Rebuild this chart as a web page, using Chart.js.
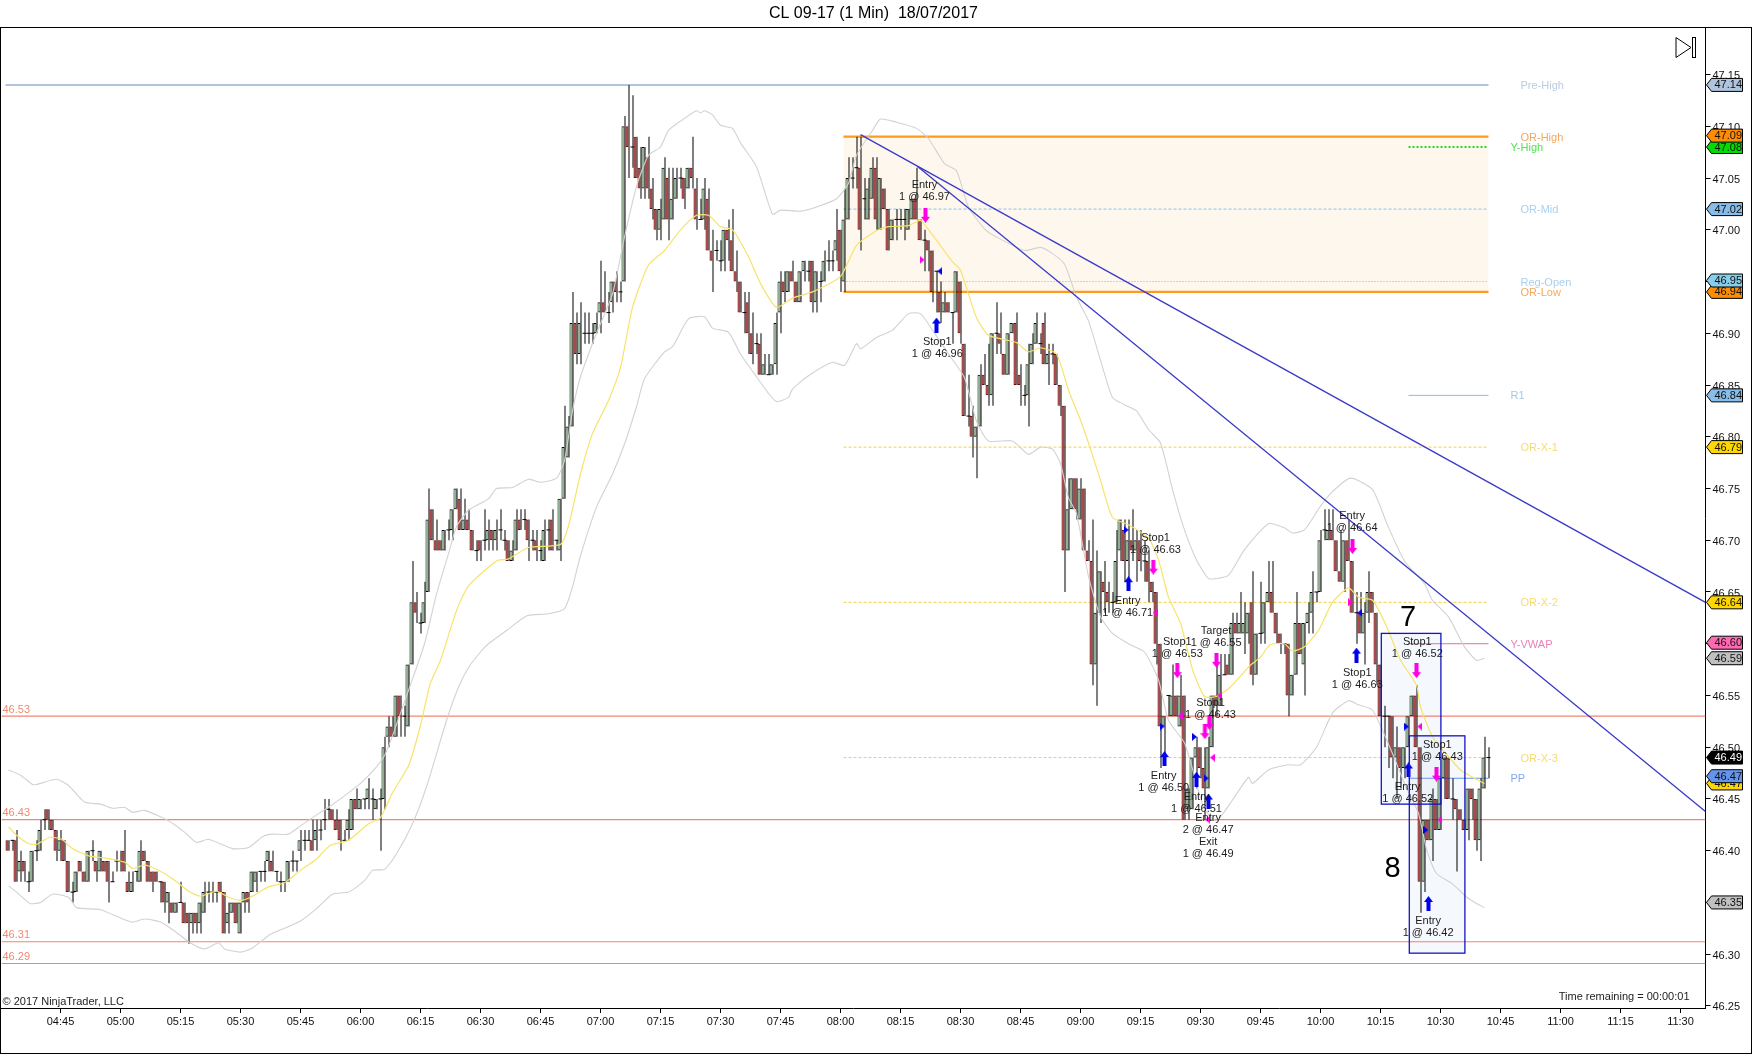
<!DOCTYPE html>
<html>
<head>
<meta charset="utf-8">
<title>CL 09-17 (1 Min)</title>
<script src="https://cdn.jsdelivr.net/npm/chart.js@4"></script>
<style>
  html, body { margin: 0; padding: 0; background: #fff; }
  canvas { display: block; }
</style>
</head>
<body>
<canvas id="priceChart" width="1752" height="1054"></canvas>
<script>
// one bar per minute, the first one is 04:32 (minute 272 of the day)
const firstBarMinute = 272;

const barOpen = [
  46.41,46.41,46.41,46.38,46.39,46.37,46.37,46.40,46.40,46.43,
  46.44,46.43,46.42,46.40,46.41,46.39,46.36,46.36,46.39,46.38,
  46.37,46.40,46.39,46.38,46.39,46.39,46.37,46.39,46.39,46.40,
  46.37,46.36,46.38,46.37,46.40,46.39,46.38,46.38,46.37,46.37,
  46.35,46.35,46.34,46.35,46.35,46.34,46.33,46.34,46.33,46.34,
  46.36,46.36,46.36,46.37,46.36,46.33,46.34,46.35,46.32,46.35,
  46.36,46.36,46.37,46.38,46.38,46.39,46.39,46.38,46.37,46.37,
  46.37,46.39,46.39,46.40,46.41,46.41,46.41,46.41,46.42,46.43,
  46.44,46.44,46.43,46.43,46.41,46.42,46.42,46.45,46.44,46.45,
  46.45,46.45,46.44,46.45,46.45,46.51,46.52,46.51,46.55,46.53,
  46.52,46.58,46.64,46.62,46.62,46.65,46.73,46.70,46.70,46.69,
  46.71,46.71,46.73,46.74,46.71,46.72,46.71,46.69,46.70,46.70,
  46.70,46.71,46.70,46.71,46.70,46.70,46.68,46.69,46.72,46.72,
  46.72,46.70,46.70,46.69,46.68,46.71,46.72,46.70,46.69,46.74,
  46.78,46.81,46.91,46.88,46.90,46.90,46.90,46.90,46.92,46.93,
  46.92,46.93,46.95,46.94,46.95,47.10,47.08,47.09,47.06,47.04,
  47.07,47.04,47.02,47.00,47.01,47.05,47.01,47.03,47.05,47.05,
  47.04,47.06,47.04,47.01,47.01,47.03,46.98,46.98,46.97,46.97,
  47.00,46.99,46.96,46.95,46.92,46.93,46.90,46.89,46.89,46.86,
  46.86,46.86,46.87,46.92,46.95,46.94,46.96,46.95,46.93,46.96,
  46.96,46.97,46.93,46.95,46.95,46.97,46.97,46.98,47.00,46.95,
  47.01,47.05,47.06,47.06,47.03,47.01,47.03,47.06,47.00,47.04,
  47.02,46.99,47.01,47.01,47.01,47.00,47.01,47.03,47.01,46.99,
  46.99,46.98,46.96,46.94,46.92,46.93,46.92,46.92,46.95,46.89,
  46.82,46.82,46.80,46.81,46.86,46.85,46.84,46.90,46.90,46.88,
  46.86,46.90,46.91,46.86,46.84,46.84,46.87,46.89,46.89,46.91,
  46.87,46.88,46.88,46.85,46.83,46.69,46.73,46.76,46.72,46.75,
  46.69,46.68,46.58,46.63,46.66,46.65,46.64,46.64,46.69,46.71,
  46.68,46.70,46.69,46.70,46.68,46.68,46.66,46.65,46.60,46.52,
  46.55,46.53,46.55,46.52,46.55,46.44,46.44,46.49,46.50,46.48,
  46.46,46.50,46.55,46.54,46.57,46.58,46.57,46.62,46.61,46.61,
  46.61,46.64,46.57,46.61,46.61,46.64,46.65,46.63,46.61,46.60,
  46.60,46.55,46.57,46.62,46.58,46.62,46.63,46.65,46.65,46.71,
  46.70,46.71,46.70,46.67,46.66,46.70,46.68,46.63,46.63,46.61,
  46.63,46.65,46.63,46.58,46.53,46.53,46.53,46.49,46.50,46.48,
  46.50,46.53,46.55,46.50,46.37,46.43,46.41,46.45,46.42,46.47,
  46.49,46.45,46.45,46.44,46.43,46.42,46.46,46.45,46.41,46.46,
  46.49
];
const barHigh = [
  46.41,46.41,46.42,46.40,46.39,46.38,46.40,46.41,46.43,46.44,
  46.44,46.43,46.42,46.42,46.41,46.39,46.37,46.38,46.39,46.38,
  46.40,46.41,46.39,46.40,46.39,46.39,46.38,46.40,46.40,46.42,
  46.38,46.38,46.38,46.41,46.40,46.39,46.38,46.38,46.37,46.37,
  46.36,46.35,46.35,46.37,46.35,46.34,46.34,46.34,46.35,46.37,
  46.37,46.37,46.36,46.37,46.36,46.35,46.35,46.35,46.35,46.36,
  46.36,46.38,46.38,46.38,46.39,46.40,46.40,46.38,46.38,46.37,
  46.39,46.40,46.39,46.42,46.42,46.42,46.43,46.43,46.43,46.45,
  46.45,46.44,46.44,46.43,46.42,46.44,46.45,46.46,46.45,46.45,
  46.47,46.46,46.45,46.46,46.51,46.53,46.53,46.55,46.55,46.54,
  46.58,46.68,46.65,46.63,46.66,46.75,46.73,46.72,46.70,46.71,
  46.72,46.73,46.75,46.75,46.74,46.73,46.71,46.70,46.70,46.73,
  46.72,46.71,46.72,46.73,46.71,46.70,46.70,46.73,46.73,46.73,
  46.72,46.71,46.71,46.70,46.72,46.72,46.73,46.70,46.74,46.83,
  46.82,46.94,46.92,46.93,46.92,46.92,46.91,46.92,46.97,46.96,
  46.94,46.95,46.96,46.95,47.11,47.14,47.13,47.09,47.08,47.08,
  47.09,47.05,47.02,47.03,47.07,47.06,47.06,47.06,47.06,47.05,
  47.06,47.09,47.05,47.03,47.05,47.04,47.00,46.99,46.99,47.00,
  47.01,47.02,46.98,46.95,46.94,46.94,46.92,46.90,46.90,46.88,
  46.88,46.87,46.92,46.96,46.96,46.96,46.97,46.95,46.96,46.97,
  46.97,46.97,46.96,46.96,46.98,46.99,46.98,47.02,47.00,47.04,
  47.07,47.07,47.09,47.09,47.05,47.05,47.07,47.07,47.05,47.04,
  47.02,47.01,47.02,47.02,47.02,47.02,47.03,47.06,47.01,47.00,
  46.99,46.98,46.96,46.95,46.94,46.93,46.92,46.96,46.95,46.89,
  46.86,46.83,46.81,46.87,46.88,46.89,46.90,46.93,46.92,46.88,
  46.90,46.91,46.92,46.87,46.85,46.89,46.90,46.92,46.90,46.92,
  46.89,46.89,46.88,46.85,46.83,46.76,46.76,46.76,46.76,46.75,
  46.70,46.72,46.69,46.67,46.68,46.66,46.65,46.71,46.72,46.72,
  46.72,46.73,46.71,46.71,46.70,46.69,46.66,46.65,46.60,46.53,
  46.55,46.58,46.55,46.57,46.55,46.46,46.49,46.51,46.50,46.50,
  46.51,46.55,46.59,46.59,46.59,46.59,46.63,46.63,46.65,46.64,
  46.63,46.67,46.61,46.66,46.64,46.68,46.68,46.63,46.61,46.60,
  46.60,46.57,46.65,46.62,46.62,46.64,46.67,46.65,46.71,46.73,
  46.73,46.73,46.70,46.71,46.70,46.72,46.68,46.65,46.65,46.64,
  46.67,46.65,46.63,46.58,46.54,46.53,46.53,46.52,46.50,46.50,
  46.53,46.55,46.56,46.50,46.43,46.43,46.46,46.45,46.47,46.49,
  46.49,46.47,46.45,46.44,46.43,46.46,46.46,46.45,46.47,46.51,
  46.50
];
const barLow = [
  46.40,46.40,46.37,46.37,46.37,46.36,46.37,46.39,46.40,46.42,
  46.42,46.42,46.39,46.39,46.39,46.36,46.35,46.36,46.38,46.37,
  46.37,46.39,46.37,46.38,46.38,46.35,46.37,46.38,46.38,46.38,
  46.36,46.36,46.37,46.37,46.39,46.37,46.36,46.37,46.35,46.34,
  46.33,46.34,46.34,46.35,46.33,46.31,46.32,46.32,46.32,46.34,
  46.35,46.35,46.35,46.36,46.32,46.32,46.34,46.33,46.32,46.34,
  46.34,46.36,46.36,46.37,46.37,46.38,46.38,46.37,46.36,46.36,
  46.37,46.38,46.38,46.39,46.40,46.41,46.40,46.40,46.41,46.42,
  46.43,46.43,46.42,46.40,46.41,46.41,46.42,46.44,46.44,46.44,
  46.44,46.43,46.44,46.40,46.44,46.50,46.51,46.51,46.51,46.51,
  46.52,46.58,46.62,46.61,46.62,46.65,46.70,46.69,46.69,46.69,
  46.70,46.70,46.73,46.71,46.71,46.71,46.69,46.68,46.68,46.69,
  46.69,46.69,46.69,46.70,46.69,46.68,46.68,46.69,46.71,46.71,
  46.68,46.69,46.68,46.68,46.68,46.69,46.69,46.69,46.68,46.74,
  46.78,46.81,46.87,46.87,46.89,46.89,46.89,46.90,46.90,46.92,
  46.91,46.92,46.93,46.93,46.95,47.05,47.06,47.05,47.03,47.03,
  47.03,47.01,46.99,46.99,47.01,46.99,47.01,47.03,47.04,47.02,
  47.04,47.04,47.00,47.01,47.00,46.98,46.94,46.97,46.96,46.96,
  46.97,46.96,46.94,46.92,46.90,46.88,46.87,46.88,46.86,46.86,
  46.86,46.86,46.86,46.90,46.93,46.94,46.95,46.93,46.93,46.95,
  46.95,46.92,46.92,46.93,46.95,46.96,46.96,46.97,46.94,46.94,
  47.01,47.04,47.04,46.98,47.01,47.01,47.03,47.00,47.00,47.02,
  46.98,46.99,46.99,47.00,46.99,47.00,47.01,47.01,46.99,46.96,
  46.96,46.93,46.92,46.91,46.92,46.92,46.89,46.92,46.89,46.82,
  46.81,46.78,46.76,46.81,46.85,46.83,46.83,46.88,46.88,46.86,
  46.86,46.90,46.85,46.83,46.83,46.81,46.87,46.89,46.88,46.87,
  46.85,46.87,46.85,46.82,46.65,46.69,46.73,46.72,46.72,46.69,
  46.68,46.56,46.54,46.62,46.63,46.63,46.63,46.64,46.68,46.66,
  46.66,46.68,46.66,46.67,46.66,46.64,46.64,46.58,46.48,46.49,
  46.53,46.53,46.53,46.52,46.43,46.43,46.44,46.46,46.47,46.43,
  46.46,46.50,46.53,46.54,46.57,46.57,46.57,46.61,46.61,46.59,
  46.60,46.56,46.57,46.60,46.60,46.64,46.63,46.60,46.59,46.59,
  46.53,46.55,46.57,46.59,46.55,46.61,46.61,46.64,46.65,46.70,
  46.70,46.70,46.67,46.66,46.65,46.68,46.63,46.60,46.61,46.58,
  46.62,46.63,46.56,46.53,46.50,46.48,46.47,46.45,46.46,46.47,
  46.50,46.53,46.50,46.34,46.36,46.41,46.39,46.42,46.42,46.45,
  46.45,46.43,46.38,46.43,46.42,46.41,46.43,46.40,46.39,46.46,
  46.47
];
const barClose = [
  46.40,46.41,46.37,46.39,46.38,46.37,46.40,46.40,46.42,46.43,
  46.43,46.42,46.40,46.41,46.39,46.36,46.36,46.38,46.38,46.37,
  46.40,46.40,46.38,46.40,46.38,46.37,46.37,46.39,46.39,46.38,
  46.36,46.37,46.38,46.40,46.39,46.37,46.37,46.37,46.37,46.35,
  46.36,46.34,46.35,46.35,46.33,46.33,46.34,46.33,46.35,46.36,
  46.36,46.36,46.36,46.36,46.32,46.34,46.35,46.33,46.35,46.36,
  46.35,46.38,46.38,46.38,46.38,46.40,46.38,46.38,46.37,46.37,
  46.39,46.39,46.39,46.41,46.41,46.41,46.40,46.42,46.42,46.43,
  46.44,46.43,46.42,46.41,46.41,46.43,46.45,46.44,46.45,46.45,
  46.46,46.45,46.45,46.45,46.50,46.52,46.51,46.55,46.53,46.53,
  46.58,46.64,46.63,46.62,46.64,46.72,46.70,46.69,46.69,46.71,
  46.71,46.73,46.75,46.71,46.72,46.71,46.69,46.69,46.69,46.70,
  46.71,46.70,46.71,46.71,46.70,46.68,46.69,46.72,46.71,46.72,
  46.70,46.70,46.69,46.69,46.71,46.71,46.69,46.70,46.74,46.79,
  46.81,46.91,46.88,46.91,46.90,46.90,46.90,46.91,46.93,46.92,
  46.92,46.95,46.94,46.94,47.10,47.08,47.08,47.05,47.04,47.08,
  47.04,47.02,47.00,47.02,47.06,47.01,47.03,47.05,47.05,47.03,
  47.06,47.05,47.01,47.01,47.04,46.98,46.97,46.98,46.97,47.00,
  46.99,46.96,46.95,46.92,46.92,46.90,46.88,46.89,46.86,46.87,
  46.86,46.87,46.91,46.95,46.94,46.96,46.95,46.93,46.96,46.97,
  46.96,46.93,46.96,46.95,46.97,46.97,46.97,46.99,46.96,47.01,
  47.05,47.05,47.06,47.00,47.03,47.04,47.06,47.01,47.05,47.02,
  46.98,47.01,47.01,47.01,47.01,47.02,47.03,47.01,46.99,46.99,
  46.98,46.94,46.96,46.92,46.93,46.92,46.92,46.96,46.90,46.82,
  46.82,46.80,46.81,46.86,46.85,46.84,46.90,46.90,46.89,46.86,
  46.90,46.91,46.85,46.85,46.84,46.87,46.89,46.91,46.89,46.87,
  46.88,46.88,46.85,46.83,46.69,46.73,46.76,46.73,46.75,46.69,
  46.68,46.58,46.63,46.67,46.65,46.64,46.64,46.68,46.72,46.68,
  46.70,46.69,46.70,46.68,46.68,46.66,46.65,46.60,46.52,46.53,
  46.55,46.55,46.53,46.55,46.43,46.46,46.49,46.50,46.48,46.46,
  46.50,46.55,46.54,46.57,46.57,46.57,46.62,46.61,46.62,46.62,
  46.63,46.57,46.61,46.61,46.64,46.65,46.63,46.61,46.60,46.60,
  46.55,46.57,46.62,46.59,46.62,46.63,46.65,46.65,46.70,46.71,
  46.71,46.70,46.67,46.66,46.70,46.68,46.63,46.63,46.61,46.63,
  46.65,46.63,46.58,46.53,46.53,46.53,46.49,46.50,46.48,46.50,
  46.53,46.55,46.50,46.37,46.43,46.41,46.45,46.42,46.47,46.49,
  46.45,46.45,46.44,46.43,46.42,46.46,46.45,46.41,46.46,46.49,
  46.49
];

// indicators, read as [minute of day, price]
const emaPoints = [
  [272,46.423],[274,46.415],[277,46.407],[279,46.406],[282.4,46.413],[285.3,46.411],[288,46.402],[292,46.395],
  [296,46.393],[301,46.389],[303,46.383],[306,46.386],[309,46.382],[313,46.373],[317.4,46.36],[320,46.356],
  [324,46.361],[327,46.355],[330,46.352],[332,46.354],[337,46.365],[341,46.369],[345,46.381],[349,46.392],
  [352.4,46.405],[357,46.41],[362,46.426],[365,46.432],[368,46.456],[372,46.482],[375,46.521],[377.4,46.561],
  [380,46.584],[384,46.632],[387,46.656],[394,46.68],[397,46.682],[402,46.693],[410,46.696],[412,46.714],
  [415,46.764],[418,46.803],[422,46.835],[425,46.867],[428,46.925],[432,46.966],[436,46.98],[440,47.0],
  [444,47.014],[447,47.014],[450,47.003],[453,47.0],[457,46.974],[460,46.948],[464,46.925],[468,46.934],
  [473,46.94],[480,46.955],[484,46.985],[489,46.999],[492,47.003],[497,47.004],[500,47.009],[503,46.995],
  [508,46.969],[510,46.961],[514,46.915],[517,46.898],[522,46.893],[524,46.891],[527,46.882],[530,46.886],
  [534,46.88],[537,46.845],[540,46.816],[542,46.794],[545,46.758],[548,46.722],[552,46.715],[557,46.702],
  [559.5,46.681],[562,46.645],[565,46.62],[568,46.575],[571,46.549],[574,46.549],[577.4,46.558],[582.4,46.579],
  [585,46.587],[587.4,46.599],[591,46.6],[593,46.593],[596,46.597],[599.5,46.613],[603,46.64],[607,46.654],
  [609.5,46.645],[613,46.642],[616.6,46.616],[620,46.584],[624,46.56],[625,46.539],[628,46.51],[632,46.491],
  [635,46.478],[638,46.471],[641,46.465]
];
const upperBandPoints = [
  [272,46.478],[275,46.473],[278,46.464],[279,46.464],[284,46.469],[287,46.463],[291,46.447],[295,46.445],
  [298,46.441],[301,46.442],[303,46.437],[306,46.439],[312,46.429],[316,46.418],[319,46.408],[322,46.411],
  [328,46.402],[332,46.403],[335.7,46.414],[338,46.416],[342,46.416],[345,46.424],[348,46.432],[352,46.442],
  [356,46.453],[360,46.465],[364,46.481],[366,46.492],[368,46.511],[372,46.555],[376,46.6],[379,46.648],
  [382,46.687],[384,46.713],[387,46.729],[392,46.74],[394,46.75],[398,46.751],[402,46.759],[405,46.756],
  [409,46.76],[411,46.777],[413,46.825],[415,46.858],[419,46.9],[423,46.938],[426,46.993],[429,47.042],
  [432,47.072],[435,47.08],[437,47.096],[440,47.105],[444,47.115],[445,47.113],[446,47.115],[448,47.111],
  [450,47.101],[453,47.098],[455,47.084],[459,47.061],[463,47.015],[465,47.019],[470,47.018],[474,47.022],
  [479,47.03],[482,47.045],[484,47.072],[488,47.096],[490,47.107],[494,47.104],[499,47.098],[502,47.088],
  [506,47.064],[509,47.057],[512,47.022],[516,47.001],[519,46.993],[526,46.98],[530,46.983],[533,46.977],
  [536,46.967],[539,46.935],[542,46.912],[545,46.874],[548,46.838],[551,46.831],[554,46.825],[557,46.807],
  [560,46.794],[563,46.749],[566,46.71],[569,46.681],[572,46.663],[574,46.663],[577,46.666],[581,46.691],
  [587,46.716],[591,46.712],[593,46.707],[596,46.71],[600,46.733],[603,46.747],[607.5,46.76],[613,46.749],
  [616.6,46.716],[621,46.68],[626,46.658],[628,46.642],[632,46.626],[636,46.597],[639,46.584],[641,46.586]
];
const lowerBandPoints = [
  [272,46.366],[274,46.36],[277.4,46.349],[280,46.35],[283,46.358],[287,46.355],[289,46.345],[295,46.343],
  [300,46.335],[303,46.331],[306,46.334],[310,46.331],[314,46.321],[317.4,46.311],[321,46.305],[324.5,46.311],
  [326,46.305],[330,46.302],[333,46.306],[337.4,46.319],[341.6,46.326],[345,46.332],[349,46.344],[353,46.358],
  [357,46.36],[361,46.371],[363,46.381],[366,46.382],[369,46.397],[373,46.426],[376.6,46.463],[381.6,46.527],
  [384.5,46.558],[387,46.577],[390,46.592],[392,46.6],[396.6,46.613],[401.6,46.627],[407,46.629],[411,46.634],
  [413,46.655],[415,46.685],[419,46.732],[423,46.764],[426,46.793],[429,46.829],[431,46.856],[436,46.882],
  [438,46.887],[442,46.914],[446,46.916],[448,46.905],[452,46.901],[455,46.88],[459,46.858],[462,46.842],
  [464,46.834],[467,46.838],[468,46.846],[472,46.859],[478,46.872],[481,46.869],[484,46.89],[485,46.885],
  [489,46.896],[493,46.903],[497,46.919],[500,46.919],[503,46.903],[507,46.88],[511,46.857],[514,46.815],
  [517,46.796],[523,46.796],[527,46.783],[530,46.79],[533,46.788],[535,46.774],[537,46.741],[539,46.726],
  [542,46.665],[545,46.626],[548,46.61],[552,46.6],[556,46.592],[559.5,46.565],[562,46.526],[566,46.504],
  [569,46.465],[571,46.44],[574,46.429],[578,46.449],[582,46.471],[583,46.465],[587,46.478],[592,46.483],
  [595,46.483],[599,46.5],[603,46.533],[607,46.545],[609.5,46.541],[613,46.536],[618,46.494],[621,46.465],
  [624.5,46.436],[626.6,46.4],[629,46.378],[633,46.368],[636.6,46.355],[639,46.349],[641,46.345]
];

const xTickMinutes = [285,300,315,330,345,360,375,390,405,420,435,450,465,480,495,510,525,540,555,570,585,600,615,630,645,660,675,690];
const xTickLabels = ["04:45","05:00","05:15","05:30","05:45","06:00","06:15","06:30","06:45","07:00","07:15","07:30","07:45","08:00","08:15","08:30","08:45","09:00","09:15","09:30","09:45","10:00","10:15","10:30","10:45","11:00","11:15","11:30"];
const yTickValues = [46.25,46.30,46.35,46.40,46.45,46.50,46.55,46.60,46.65,46.70,46.75,46.80,46.85,46.90,46.95,47.00,47.05,47.10,47.15];

// horizontal levels: name, price, first minute, last minute, colour, width, dash
const levelNames  = ["Pre-High","OR-High","OR-Low","OR-Mid","Reg-Open","OR-X-1","OR-X-2","OR-X-3","Y-High","R1","Y-VWAP","PP"];
const levelPrices = [47.14,47.09,46.94,47.02,46.95,46.79,46.64,46.49,47.08,46.84,46.60,46.47];
const levelStarts = [271.25,480.75,480.75,480.75,480.75,480.75,480.75,480.75,622,622,622,622];
const levelColors = ["#b0c4de","#ff9a1e","#ff9a1e","#87c4ea","#a8a8a8","#f5d040","#f5d040","#f5d040","#22d822","#87bde8","#ee6aa7","#6495ed"];
const levelWidths = [2,2.2,2.2,1,1,1,1,1,2,1,1,1];
const levelDashes = [[],[],[],[3,2],[1,2],[3,2],[3,2],[3,2],[2,2],[],[],[]];
const levelEnd = 642;
const levelLabelColors = ["#b9cbe2","#f2a860","#f2a860","#a9d0ee","#a9d0ee","#f5dc70","#f5dc70","#f5dc70","#55e055","#a0c8ea","#ee80b8","#86a8e8"];
const levelLabelMinutes = [650,650,650,650,650,650,650,650,647.5,647.5,647.5,647.5];

const redLinePrices = [46.53,46.43,46.312,46.291];

// drawn trend lines, [minute, price] at both ends
const trendLineA = [[485,47.092],[696.25,46.64]];
const trendLineB = [[499.2,47.0614],[696.25,46.438]];

// trade boxes: first minute, last minute, top price, bottom price
const boxStart = [615.2,622.2];
const boxEnd = [630.1,636.1];
const boxTop = [46.61,46.511];
const boxBottom = [46.445,46.301];
const boxNumbers = ["7","8"];
const boxNumberMinutes = [621.9,618];
const boxNumberPrices = [46.625,46.382];

// executions
const downArrows = [[501.25,47.014],[558.2,46.674],[564.2,46.574],[574,46.584],[571.1,46.515],[572.2,46.524],[608,46.694],[624,46.574],[629,46.474]];
const upArrows = [[504,46.908],[552,46.658],[561,46.489],[569,46.469],[572,46.448],[609,46.589],[622,46.478],[627,46.349]];
const pinkRightMarks = [[500.4,46.971],[607.5,46.64]];
const pinkLeftMarks = [[558.75,46.63],[565,46.53],[574.8,46.55],[573,46.49],[571.8,46.43],[624.8,46.52],[629.8,46.43]];
const blueRightMarks = [[551.4,46.71],[560.4,46.52],[568.5,46.51],[571.4,46.47],[621.5,46.52],[626.3,46.42]];
const blueLeftMarks = [[504.8,46.96],[609.8,46.63]];

const tradeNames = ["Entry","Stop1","Entry","Stop1","Stop1","Target","Stop1","Entry","Entry","Entry","Exit","Entry","Stop1","Stop1","Entry","Stop1","Entry"];
const tradeFills = ["1 @ 46.97","1 @ 46.96","1 @ 46.71","1 @ 46.63","1 @ 46.53","1 @ 46.55","1 @ 46.43","1 @ 46.50","1 @ 46.51","2 @ 46.47","1 @ 46.49","1 @ 46.64","1 @ 46.63","1 @ 46.52","1 @ 46.52","1 @ 46.43","1 @ 46.42"];
const tradeMinutes = [501,504.2,551.8,558.75,564.2,573.9,572.5,560.8,569,571.9,571.9,607.9,609.2,624.2,621.8,629.2,626.9];
const tradePrices = [47.043,46.892,46.641,46.702,46.602,46.612,46.543,46.472,46.452,46.432,46.408,46.723,46.572,46.602,46.462,46.502,46.332];

// price tags on the right axis, later ones sit on top
const tagPrices = [47.14,47.08,47.091,47.02,46.94,46.951,46.84,46.79,46.64,46.586,46.601,46.465,46.472,46.49,46.35];
const tagColors = ["#b0c4de","#00dd00","#ff8c00","#87bde8","#ff8c00","#87ceeb","#87bde8","#ffd700","#ffd700","#c0c0c0","#ff69b4","#ffd700","#6495ed","#000000","#c0c0c0"];

const fontName = '"Liberation Sans", Arial, sans-serif';
const green = "#a4dca4";
const red = "#9c1010";
const redEdge = "#6e0a0a";

function toXY(list) {
  return list.map((p) => ({ x: p[0], y: p[1] }));
}

function makeArrow(color, up) {
  const c = document.createElement("canvas");
  c.width = 9;
  c.height = 15;
  const g = c.getContext("2d");
  if (!up) {
    g.translate(0, 15);
    g.scale(1, -1);
  }
  g.fillStyle = color;
  g.beginPath();
  g.moveTo(4.5, 0);
  g.lineTo(9, 6);
  g.lineTo(6.5, 6);
  g.lineTo(6.5, 15);
  g.lineTo(2.5, 15);
  g.lineTo(2.5, 6);
  g.lineTo(0, 6);
  g.closePath();
  g.fill();
  return c;
}

function makeTriangle(color, right) {
  const c = document.createElement("canvas");
  c.width = 5;
  c.height = 8;
  const g = c.getContext("2d");
  g.fillStyle = color;
  g.beginPath();
  if (right) {
    g.moveTo(0, 0);
    g.lineTo(5, 4);
    g.lineTo(0, 8);
  } else {
    g.moveTo(5, 0);
    g.lineTo(0, 4);
    g.lineTo(5, 8);
  }
  g.closePath();
  g.fill();
  return c;
}

const wicks = [];
const bodies = [];
const bodyColors = [];
const bodyEdges = [];
const dojis = [];
barOpen.forEach((open, i) => {
  const minute = firstBarMinute + i;
  const close = barClose[i];
  wicks.push({ x: minute, y: [barLow[i], barHigh[i]] });
  if (open === close) {
    dojis.push({ x: minute, y: open });
  } else {
    bodies.push({ x: minute, y: [Math.min(open, close), Math.max(open, close)] });
    bodyColors.push(close > open ? green : red);
    bodyEdges.push(close > open ? "#000" : redEdge);
  }
});

function lineSet(data, color, width, order, extra) {
  return Object.assign({
    type: "line",
    data: data,
    borderColor: color,
    borderWidth: width,
    pointRadius: 0,
    fill: false,
    order: order,
  }, extra || {});
}

function markSet(list, image) {
  return {
    type: "scatter",
    data: toXY(list),
    pointStyle: image,
    pointRadius: 5,
    order: 5,
  };
}

const datasets = [];

levelNames.forEach((name, i) => {
  const extra = { borderDash: levelDashes[i] };
  if (name === "OR-High") {
    extra.fill = { value: 46.94 };
    extra.backgroundColor = "#fef7ee";
  }
  datasets.push(lineSet(
    [{ x: levelStarts[i], y: levelPrices[i] }, { x: levelEnd, y: levelPrices[i] }],
    levelColors[i], levelWidths[i], 70, extra
  ));
});
redLinePrices.forEach((p) => {
  datasets.push(lineSet([{ x: 270.25, y: p }, { x: 696.25, y: p }], "#f08570", 1.2, 70));
});

datasets.push({ type: "bar", data: wicks, backgroundColor: "#000", barThickness: 1, inflateAmount: 0, order: 50 });
datasets.push({ type: "bar", data: bodies, backgroundColor: bodyColors, borderColor: bodyEdges, borderWidth: 1, borderSkipped: false, barThickness: 3, inflateAmount: 0, order: 40 });
datasets.push({ type: "scatter", data: dojis, pointStyle: "line", pointRadius: 2, borderColor: "#000", backgroundColor: "#000", borderWidth: 1, order: 40 });

datasets.push(lineSet(toXY(upperBandPoints), "#d2d2d2", 1.1, 30, { tension: 0.2 }));
datasets.push(lineSet(toXY(lowerBandPoints), "#d2d2d2", 1.1, 30, { tension: 0.2 }));
datasets.push(lineSet(toXY(emaPoints), "#f7e36a", 1.2, 25, { tension: 0.2 }));
datasets.push(lineSet(toXY(trendLineA), "#3a3ac8", 1.3, 20));
datasets.push(lineSet(toXY(trendLineB), "#3a3ac8", 1.3, 20));

datasets.push(markSet(downArrows, makeArrow("#ff00e6", false)));
datasets.push(markSet(upArrows, makeArrow("#0000f0", true)));
datasets.push(markSet(pinkRightMarks, makeTriangle("#ff00e6", true)));
datasets.push(markSet(pinkLeftMarks, makeTriangle("#ff00e6", false)));
datasets.push(markSet(blueRightMarks, makeTriangle("#0000f0", true)));
datasets.push(markSet(blueLeftMarks, makeTriangle("#0000f0", false)));

const chartExtras = {
  id: "chartExtras",
  beforeDatasetsDraw(chart) {
    const ctx = chart.ctx;
    const x = chart.scales.x;
    const y = chart.scales.y;
    ctx.save();
    ctx.fillStyle = "rgba(225,235,245,0.33)";
    boxStart.forEach((start, i) => {
      const left = x.getPixelForValue(start);
      const top = y.getPixelForValue(boxTop[i]);
      ctx.fillRect(left, top, x.getPixelForValue(boxEnd[i]) - left, y.getPixelForValue(boxBottom[i]) - top);
    });
    ctx.restore();
  },
  afterDatasetsDraw(chart) {
    const ctx = chart.ctx;
    const x = chart.scales.x;
    const y = chart.scales.y;
    const area = chart.chartArea;
    ctx.save();

    // box outlines
    ctx.strokeStyle = "#1414c0";
    ctx.lineWidth = 1.3;
    boxStart.forEach((start, i) => {
      const left = x.getPixelForValue(start);
      const top = y.getPixelForValue(boxTop[i]);
      ctx.strokeRect(left, top, x.getPixelForValue(boxEnd[i]) - left, y.getPixelForValue(boxBottom[i]) - top);
    });

    // level names on the right
    ctx.font = "11px " + fontName;
    ctx.textAlign = "left";
    ctx.textBaseline = "middle";
    levelNames.forEach((name, i) => {
      ctx.fillStyle = levelLabelColors[i];
      ctx.fillText(name, x.getPixelForValue(levelLabelMinutes[i]), y.getPixelForValue(levelPrices[i]) + 1);
    });

    // red level prices on the left
    ctx.fillStyle = "#f08a70";
    ctx.textBaseline = "bottom";
    redLinePrices.forEach((p) => {
      ctx.fillText(p.toFixed(2), area.left + 1, y.getPixelForValue(p) - 1);
    });

    // trade texts
    ctx.fillStyle = "#1c1c1c";
    ctx.textAlign = "center";
    ctx.textBaseline = "middle";
    tradeNames.forEach((name, i) => {
      const px = x.getPixelForValue(tradeMinutes[i]);
      const py = y.getPixelForValue(tradePrices[i]);
      ctx.fillText(name, px, py);
      ctx.fillText(tradeFills[i], px, py + 12);
    });

    // big box numbers
    ctx.fillStyle = "#000";
    ctx.font = "29px " + fontName;
    boxNumbers.forEach((num, i) => {
      ctx.fillText(num, x.getPixelForValue(boxNumberMinutes[i]), y.getPixelForValue(boxNumberPrices[i]));
    });

    // corner texts
    ctx.font = "11px " + fontName;
    ctx.textAlign = "left";
    ctx.fillStyle = "#222";
    ctx.fillText("\u00A9 2017 NinjaTrader, LLC", area.left + 1, area.bottom - 6);
    ctx.textAlign = "right";
    ctx.fillText("Time remaining = 00:00:01", area.right - 16, area.bottom - 11);

    // skip to end button
    ctx.strokeStyle = "#000";
    ctx.lineWidth = 1;
    ctx.beginPath();
    ctx.moveTo(area.right - 29.5, area.top + 9.5);
    ctx.lineTo(area.right - 14.5, area.top + 19.5);
    ctx.lineTo(area.right - 29.5, area.top + 29.5);
    ctx.closePath();
    ctx.stroke();
    ctx.strokeRect(area.right - 13, area.top + 9.5, 3, 20);

    // price tags over the right axis
    tagPrices.forEach((p, i) => {
      const py = y.getPixelForValue(p);
      const tip = area.right + 1;
      ctx.fillStyle = tagColors[i];
      ctx.strokeStyle = "#000";
      ctx.beginPath();
      ctx.moveTo(tip, py);
      ctx.lineTo(tip + 5, py - 6.5);
      ctx.lineTo(tip + 36, py - 6.5);
      ctx.lineTo(tip + 36, py + 6.5);
      ctx.lineTo(tip + 5, py + 6.5);
      ctx.closePath();
      ctx.fill();
      ctx.stroke();
      ctx.fillStyle = tagColors[i] === "#000000" ? "#fff" : "#111";
      ctx.textAlign = "left";
      ctx.textBaseline = "middle";
      ctx.fillText(p.toFixed(2), tip + 8, py + 0.5);
    });

    // outer frame
    ctx.strokeStyle = "#000";
    ctx.lineWidth = 1;
    ctx.strokeRect(0.5, area.top - 0.5, chart.width - 1, chart.height - area.top);
    ctx.restore();
  },
};

new Chart(document.getElementById("priceChart").getContext("2d"), {
  type: "bar",
  data: { datasets: datasets },
  plugins: [chartExtras],
  options: {
    responsive: false,
    animation: false,
    devicePixelRatio: 1,
    events: [],
    layout: { autoPadding: false, padding: { left: 1.5, right: 6.6, top: 0, bottom: 0 } },
    plugins: {
      legend: { display: false },
      tooltip: { enabled: false },
      filler: { drawTime: "beforeDatasetsDraw" },
      title: {
        display: true,
        text: "CL 09-17 (1 Min)  18/07/2017",
        color: "#000",
        font: { family: fontName, size: 16, weight: "normal" },
        padding: { top: 3.6, bottom: 5.2 },
      },
    },
    scales: {
      x: {
        type: "linear",
        offset: false,
        min: 270.25,
        max: 696.25,
        afterFit: (s) => { s.height = 46; s.paddingLeft = 0; s.paddingRight = 0; },
        afterBuildTicks: (s) => { s.ticks = xTickMinutes.map((v) => ({ value: v })); },
        grid: { drawOnChartArea: false, color: "#000", tickLength: 5, offset: false },
        border: { color: "#000" },
        ticks: {
          color: "#111",
          font: { family: fontName, size: 11 },
          maxRotation: 0,
          autoSkip: false,
          padding: 2,
          callback: (v) => xTickLabels[xTickMinutes.indexOf(v)],
        },
      },
      y: {
        type: "linear",
        position: "right",
        min: 46.248,
        max: 47.195,
        afterFit: (s) => { s.width = 39.9; s.paddingTop = 0; s.paddingBottom = 0; },
        afterBuildTicks: (s) => { s.ticks = yTickValues.map((v) => ({ value: v })); },
        grid: { drawOnChartArea: false, color: "#000", tickLength: 5 },
        border: { color: "#000" },
        ticks: {
          color: "#111",
          font: { family: fontName, size: 11 },
          padding: 2,
          labelOffset: 1.5,
          callback: (v) => v.toFixed(2),
        },
      },
    },
  },
});
</script>
</body>
</html>
